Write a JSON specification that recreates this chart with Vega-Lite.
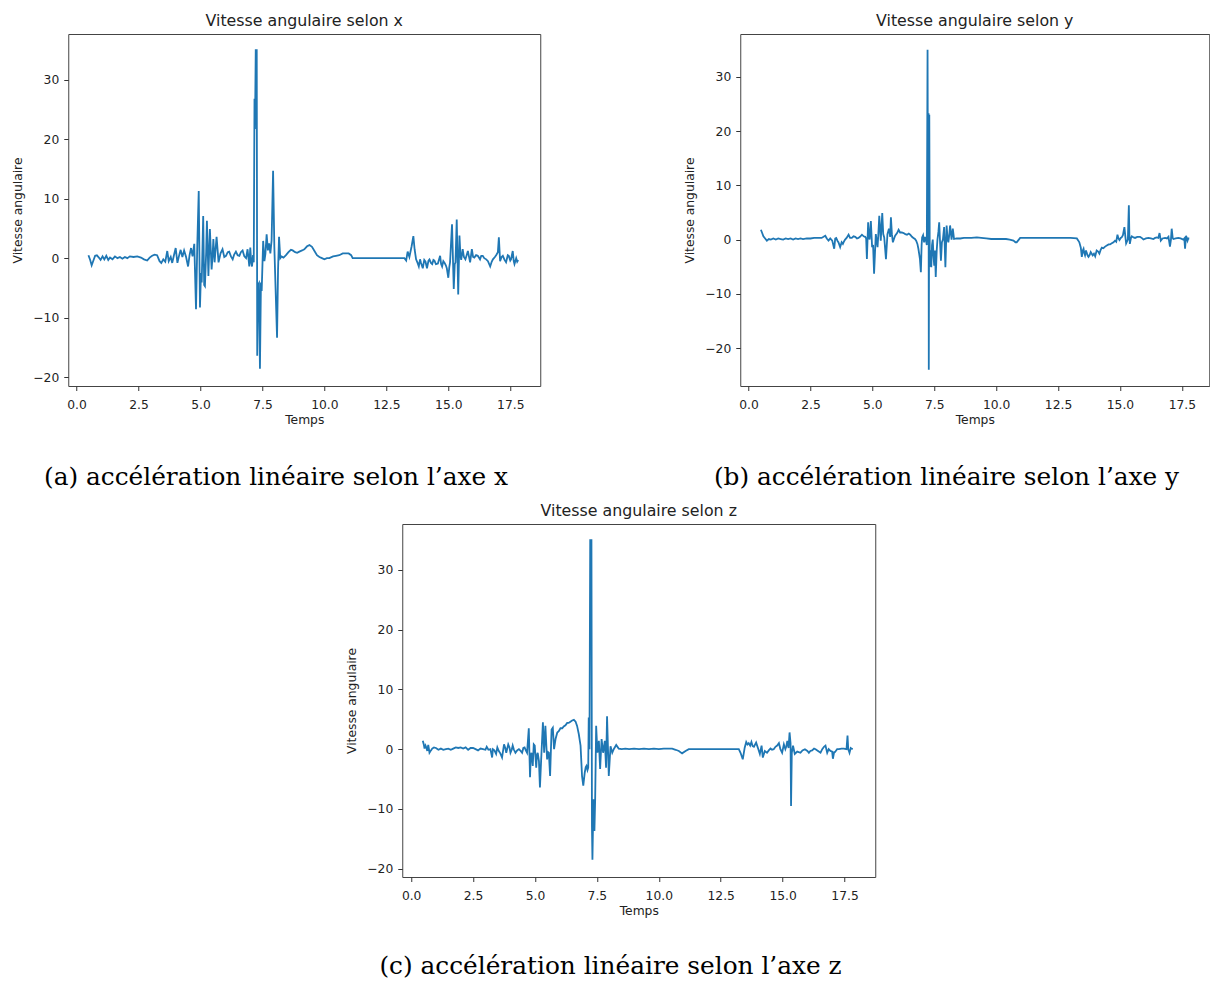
{
"$schema": "https://vega.github.io/schema/vega-lite/v6.json",
"background": "white",
"padding": {"left": 11, "top": 12, "right": 0, "bottom": 0},
"config": {
  "view": {"stroke": "#444", "strokeWidth": 1},
  "axis": {"grid": false, "domain": false, "tickColor": "#333", "tickSize": 4.5, "labelFont": "DejaVu Sans", "labelFontSize": 12.3, "labelColor": "#222", "titleFont": "DejaVu Sans", "titleFontSize": 12.3, "titleFontWeight": "normal", "titleColor": "#222"},
  "axisY": {"labelPadding": 5, "titlePadding": 8},
  "axisX": {"labelPadding": 8, "titlePadding": 3},
  "title": {"font": "DejaVu Sans", "fontSize": 15.8, "fontWeight": "normal", "color": "#222"},
  "line": {"color": "#1f77b4", "strokeWidth": 1.8, "clip": true}
},
"datasets": {
"x": [
{"t":0.48,"v":0.5},{"t":0.55,"v":-0.3},{"t":0.61,"v":-1.2},{"t":0.68,"v":-0.4},{"t":0.75,"v":0.4},{"t":0.82,"v":0.5},{"t":0.9,"v":0.1},{"t":0.97,"v":-0.3},{"t":1.05,"v":0.3},{"t":1.12,"v":-0.2},{"t":1.2,"v":0.4},{"t":1.28,"v":-0.3},{"t":1.35,"v":0.1},{"t":1.45,"v":-0.2},{"t":1.55,"v":0.3},{"t":1.65,"v":0.0},{"t":1.75,"v":0.2},{"t":1.85,"v":-0.1},{"t":1.95,"v":0.2},{"t":2.05,"v":0.0},{"t":2.15,"v":0.3},{"t":2.3,"v":0.2},{"t":2.45,"v":0.3},{"t":2.6,"v":0.1},{"t":2.72,"v":-0.2},{"t":2.85,"v":-0.4},{"t":2.95,"v":0.1},{"t":3.05,"v":0.4},{"t":3.15,"v":0.6},{"t":3.25,"v":0.5},{"t":3.35,"v":-0.5},{"t":3.42,"v":-0.8},{"t":3.5,"v":-0.2},{"t":3.58,"v":-0.6},{"t":3.66,"v":1.2},{"t":3.72,"v":-0.5},{"t":3.8,"v":0.2},{"t":3.86,"v":-0.8},{"t":3.93,"v":0.5},{"t":4.0,"v":1.7},{"t":4.07,"v":-0.8},{"t":4.13,"v":0.3},{"t":4.2,"v":1.4},{"t":4.27,"v":0.2},{"t":4.34,"v":1.3},{"t":4.42,"v":0.2},{"t":4.5,"v":-1.4},{"t":4.56,"v":0.5},{"t":4.62,"v":1.7},{"t":4.68,"v":0.3},{"t":4.75,"v":2.4},{"t":4.82,"v":-8.6},{"t":4.87,"v":2.0},{"t":4.93,"v":11.3},{"t":4.98,"v":-8.3},{"t":5.02,"v":-2.5},{"t":5.05,"v":-4.1},{"t":5.11,"v":7.1},{"t":5.15,"v":-4.5},{"t":5.18,"v":-4.7},{"t":5.23,"v":1.0},{"t":5.26,"v":6.3},{"t":5.32,"v":-3.0},{"t":5.38,"v":4.9},{"t":5.45,"v":-1.9},{"t":5.49,"v":0.5},{"t":5.52,"v":3.2},{"t":5.57,"v":-0.7},{"t":5.61,"v":1.5},{"t":5.65,"v":3.6},{"t":5.73,"v":-0.7},{"t":5.81,"v":0.8},{"t":5.89,"v":1.5},{"t":5.96,"v":0.2},{"t":6.03,"v":0.4},{"t":6.1,"v":1.0},{"t":6.16,"v":1.1},{"t":6.23,"v":0.3},{"t":6.3,"v":-0.2},{"t":6.36,"v":0.6},{"t":6.43,"v":1.1},{"t":6.5,"v":0.5},{"t":6.57,"v":0.4},{"t":6.63,"v":1.0},{"t":6.7,"v":1.3},{"t":6.77,"v":0.3},{"t":6.84,"v":0.0},{"t":6.9,"v":1.5},{"t":6.97,"v":-1.4},{"t":7.01,"v":1.8},{"t":7.05,"v":-0.8},{"t":7.08,"v":-1.4},{"t":7.12,"v":0.5},{"t":7.15,"v":-0.7},{"t":7.18,"v":26.8},{"t":7.2,"v":21.7},{"t":7.23,"v":35.0},{"t":7.27,"v":35.0},{"t":7.29,"v":-16.4},{"t":7.32,"v":-4.5},{"t":7.36,"v":-4.2},{"t":7.4,"v":-18.6},{"t":7.44,"v":-4.1},{"t":7.47,"v":-5.5},{"t":7.53,"v":2.9},{"t":7.58,"v":-0.5},{"t":7.62,"v":0.7},{"t":7.67,"v":4.0},{"t":7.72,"v":1.3},{"t":7.77,"v":2.5},{"t":7.82,"v":0.8},{"t":7.87,"v":3.0},{"t":7.93,"v":14.7},{"t":7.98,"v":2.0},{"t":8.03,"v":-5.0},{"t":8.09,"v":-13.4},{"t":8.13,"v":-2.0},{"t":8.17,"v":3.6},{"t":8.22,"v":0.0},{"t":8.27,"v":0.3},{"t":8.35,"v":0.1},{"t":8.45,"v":0.5},{"t":8.55,"v":1.0},{"t":8.65,"v":1.4},{"t":8.72,"v":1.3},{"t":8.82,"v":1.0},{"t":8.9,"v":0.9},{"t":8.99,"v":1.1},{"t":9.1,"v":1.3},{"t":9.19,"v":1.5},{"t":9.3,"v":2.0},{"t":9.4,"v":2.2},{"t":9.5,"v":1.9},{"t":9.6,"v":1.2},{"t":9.7,"v":0.5},{"t":9.8,"v":0.2},{"t":9.9,"v":0.0},{"t":10.0,"v":-0.2},{"t":10.1,"v":0.0},{"t":10.2,"v":0.0},{"t":10.35,"v":0.3},{"t":10.47,"v":0.4},{"t":10.6,"v":0.5},{"t":10.74,"v":0.8},{"t":10.9,"v":0.8},{"t":10.98,"v":0.8},{"t":11.08,"v":0.5},{"t":11.14,"v":0.0},{"t":13.23,"v":0.0},{"t":13.3,"v":-0.4},{"t":13.36,"v":1.1},{"t":13.43,"v":0.2},{"t":13.52,"v":2.0},{"t":13.59,"v":3.7},{"t":13.64,"v":1.5},{"t":13.7,"v":-0.2},{"t":13.76,"v":-0.8},{"t":13.81,"v":-1.4},{"t":13.86,"v":-0.2},{"t":13.9,"v":-0.8},{"t":13.97,"v":-1.7},{"t":14.03,"v":-0.3},{"t":14.08,"v":-0.6},{"t":14.14,"v":-1.7},{"t":14.2,"v":-0.4},{"t":14.24,"v":-0.2},{"t":14.3,"v":-0.8},{"t":14.35,"v":-1.0},{"t":14.4,"v":-0.3},{"t":14.44,"v":-0.4},{"t":14.5,"v":-1.0},{"t":14.58,"v":-0.9},{"t":14.62,"v":-0.3},{"t":14.67,"v":0.4},{"t":14.71,"v":-1.0},{"t":14.75,"v":-1.4},{"t":14.8,"v":-0.5},{"t":14.85,"v":-0.8},{"t":14.9,"v":-1.2},{"t":14.94,"v":-1.7},{"t":15.0,"v":-3.3},{"t":15.04,"v":-1.5},{"t":15.07,"v":-0.7},{"t":15.15,"v":5.7},{"t":15.22,"v":-5.2},{"t":15.26,"v":-1.0},{"t":15.29,"v":-0.7},{"t":15.34,"v":6.5},{"t":15.4,"v":-6.1},{"t":15.45,"v":3.8},{"t":15.49,"v":0.5},{"t":15.52,"v":-0.3},{"t":15.58,"v":1.5},{"t":15.63,"v":0.2},{"t":15.69,"v":-0.2},{"t":15.74,"v":0.5},{"t":15.79,"v":1.2},{"t":15.88,"v":-0.7},{"t":15.95,"v":1.5},{"t":16.0,"v":0.2},{"t":16.05,"v":0.1},{"t":16.12,"v":0.5},{"t":16.19,"v":0.4},{"t":16.28,"v":-0.2},{"t":16.33,"v":0.4},{"t":16.39,"v":0.4},{"t":16.45,"v":0.0},{"t":16.53,"v":-0.2},{"t":16.6,"v":-0.5},{"t":16.69,"v":-1.4},{"t":16.75,"v":-0.6},{"t":16.8,"v":-0.2},{"t":16.88,"v":0.2},{"t":16.93,"v":0.5},{"t":17.0,"v":1.0},{"t":17.04,"v":3.5},{"t":17.09,"v":-0.5},{"t":17.15,"v":0.2},{"t":17.2,"v":0.4},{"t":17.27,"v":-0.3},{"t":17.33,"v":-0.7},{"t":17.4,"v":0.5},{"t":17.44,"v":0.4},{"t":17.5,"v":-0.4},{"t":17.53,"v":-0.2},{"t":17.6,"v":1.2},{"t":17.64,"v":-0.5},{"t":17.67,"v":-1.0},{"t":17.74,"v":0.0},{"t":17.78,"v":-0.6},{"t":17.82,"v":-0.3}
],
"y": [
{"t":0.5,"v":1.8},{"t":0.55,"v":1.2},{"t":0.6,"v":0.6},{"t":0.67,"v":0.2},{"t":0.74,"v":-0.2},{"t":0.82,"v":0.1},{"t":0.9,"v":0.0},{"t":1.0,"v":0.2},{"t":1.1,"v":0.0},{"t":1.2,"v":0.2},{"t":1.3,"v":0.1},{"t":1.4,"v":0.0},{"t":1.5,"v":0.2},{"t":1.6,"v":0.1},{"t":1.7,"v":0.2},{"t":1.8,"v":0.0},{"t":1.9,"v":0.2},{"t":2.0,"v":0.1},{"t":2.1,"v":0.2},{"t":2.2,"v":0.1},{"t":2.35,"v":0.2},{"t":2.5,"v":0.2},{"t":2.65,"v":0.3},{"t":2.8,"v":0.3},{"t":2.95,"v":0.3},{"t":3.03,"v":0.5},{"t":3.1,"v":0.7},{"t":3.16,"v":0.2},{"t":3.23,"v":-0.2},{"t":3.3,"v":0.2},{"t":3.38,"v":-0.2},{"t":3.46,"v":-1.7},{"t":3.5,"v":0.2},{"t":3.54,"v":0.3},{"t":3.6,"v":-0.3},{"t":3.63,"v":-0.5},{"t":3.7,"v":-1.4},{"t":3.76,"v":-0.5},{"t":3.81,"v":-0.8},{"t":3.86,"v":-0.3},{"t":3.9,"v":0.0},{"t":3.96,"v":0.3},{"t":4.04,"v":0.9},{"t":4.1,"v":0.3},{"t":4.17,"v":0.3},{"t":4.24,"v":0.6},{"t":4.31,"v":0.5},{"t":4.38,"v":0.2},{"t":4.44,"v":0.3},{"t":4.5,"v":0.5},{"t":4.58,"v":0.9},{"t":4.65,"v":0.6},{"t":4.71,"v":0.5},{"t":4.75,"v":0.2},{"t":4.78,"v":-3.6},{"t":4.83,"v":3.2},{"t":4.86,"v":0.5},{"t":4.89,"v":0.0},{"t":4.94,"v":3.4},{"t":4.99,"v":-1.4},{"t":5.03,"v":-1.0},{"t":5.07,"v":-6.3},{"t":5.14,"v":1.0},{"t":5.21,"v":-1.4},{"t":5.24,"v":0.8},{"t":5.28,"v":4.4},{"t":5.34,"v":-0.2},{"t":5.4,"v":4.9},{"t":5.44,"v":1.0},{"t":5.48,"v":0.4},{"t":5.55,"v":-3.6},{"t":5.61,"v":1.0},{"t":5.67,"v":2.0},{"t":5.72,"v":0.5},{"t":5.75,"v":4.1},{"t":5.79,"v":1.0},{"t":5.83,"v":-0.5},{"t":5.88,"v":0.2},{"t":5.92,"v":0.7},{"t":6.0,"v":1.2},{"t":6.06,"v":1.8},{"t":6.12,"v":1.3},{"t":6.19,"v":1.3},{"t":6.26,"v":1.2},{"t":6.33,"v":1.0},{"t":6.4,"v":0.9},{"t":6.47,"v":1.1},{"t":6.53,"v":0.9},{"t":6.6,"v":0.5},{"t":6.66,"v":0.3},{"t":6.72,"v":0.1},{"t":6.77,"v":-0.2},{"t":6.82,"v":-0.8},{"t":6.86,"v":-1.7},{"t":6.92,"v":-3.5},{"t":6.96,"v":-6.0},{"t":6.99,"v":-1.0},{"t":7.01,"v":0.4},{"t":7.05,"v":0.8},{"t":7.09,"v":-0.5},{"t":7.13,"v":0.5},{"t":7.17,"v":-0.2},{"t":7.2,"v":-1.0},{"t":7.23,"v":35.0},{"t":7.25,"v":-0.5},{"t":7.27,"v":23.3},{"t":7.28,"v":-24.0},{"t":7.3,"v":23.0},{"t":7.32,"v":-5.0},{"t":7.35,"v":-2.0},{"t":7.38,"v":-5.1},{"t":7.41,"v":-1.0},{"t":7.44,"v":0.0},{"t":7.47,"v":-3.0},{"t":7.5,"v":-4.8},{"t":7.53,"v":-2.0},{"t":7.56,"v":-6.9},{"t":7.6,"v":-2.0},{"t":7.63,"v":0.0},{"t":7.67,"v":1.5},{"t":7.7,"v":3.2},{"t":7.74,"v":-1.0},{"t":7.77,"v":-3.9},{"t":7.81,"v":-0.5},{"t":7.85,"v":0.0},{"t":7.9,"v":2.3},{"t":7.95,"v":-5.1},{"t":8.0,"v":2.6},{"t":8.04,"v":0.0},{"t":8.07,"v":-0.5},{"t":8.11,"v":1.0},{"t":8.14,"v":2.6},{"t":8.2,"v":0.0},{"t":8.25,"v":2.0},{"t":8.3,"v":0.1},{"t":8.4,"v":0.2},{"t":8.55,"v":0.2},{"t":8.7,"v":0.3},{"t":8.85,"v":0.3},{"t":9.0,"v":0.3},{"t":9.22,"v":0.4},{"t":9.4,"v":0.3},{"t":9.6,"v":0.2},{"t":9.8,"v":0.1},{"t":10.03,"v":0.1},{"t":10.2,"v":0.1},{"t":10.4,"v":0.1},{"t":10.55,"v":0.0},{"t":10.7,"v":-0.2},{"t":10.78,"v":-0.5},{"t":10.83,"v":-0.5},{"t":10.9,"v":-0.1},{"t":10.97,"v":0.3},{"t":11.2,"v":0.3},{"t":11.5,"v":0.3},{"t":12.0,"v":0.3},{"t":12.5,"v":0.3},{"t":13.0,"v":0.3},{"t":13.26,"v":0.2},{"t":13.32,"v":-0.2},{"t":13.36,"v":-0.5},{"t":13.42,"v":-1.5},{"t":13.46,"v":-3.2},{"t":13.5,"v":-2.0},{"t":13.53,"v":-1.7},{"t":13.56,"v":-2.5},{"t":13.59,"v":-2.9},{"t":13.63,"v":-2.0},{"t":13.66,"v":-2.5},{"t":13.7,"v":-3.0},{"t":13.73,"v":-3.2},{"t":13.78,"v":-2.8},{"t":13.82,"v":-2.3},{"t":13.86,"v":-2.6},{"t":13.9,"v":-2.9},{"t":13.95,"v":-2.6},{"t":14.0,"v":-3.1},{"t":14.06,"v":-2.0},{"t":14.12,"v":-2.2},{"t":14.17,"v":-2.6},{"t":14.22,"v":-1.9},{"t":14.27,"v":-1.5},{"t":14.33,"v":-1.6},{"t":14.4,"v":-1.3},{"t":14.47,"v":-1.1},{"t":14.54,"v":-0.9},{"t":14.6,"v":-0.9},{"t":14.67,"v":-0.7},{"t":14.74,"v":-0.5},{"t":14.8,"v":-0.2},{"t":14.85,"v":-0.4},{"t":14.9,"v":0.9},{"t":14.94,"v":0.2},{"t":14.98,"v":-0.1},{"t":15.03,"v":0.3},{"t":15.07,"v":0.4},{"t":15.12,"v":0.8},{"t":15.18,"v":2.3},{"t":15.22,"v":0.5},{"t":15.25,"v":-0.7},{"t":15.3,"v":-0.2},{"t":15.32,"v":0.0},{"t":15.36,"v":6.3},{"t":15.38,"v":1.0},{"t":15.4,"v":-0.8},{"t":15.44,"v":0.2},{"t":15.48,"v":0.6},{"t":15.55,"v":0.4},{"t":15.61,"v":0.3},{"t":15.7,"v":0.5},{"t":15.81,"v":0.5},{"t":15.88,"v":0.3},{"t":15.95,"v":0.0},{"t":16.05,"v":0.2},{"t":16.15,"v":0.3},{"t":16.25,"v":0.2},{"t":16.35,"v":0.1},{"t":16.42,"v":0.3},{"t":16.49,"v":0.4},{"t":16.55,"v":0.3},{"t":16.6,"v":1.2},{"t":16.65,"v":-0.2},{"t":16.72,"v":0.2},{"t":16.82,"v":0.3},{"t":16.9,"v":0.2},{"t":16.96,"v":0.5},{"t":17.02,"v":-1.3},{"t":17.06,"v":0.0},{"t":17.09,"v":2.0},{"t":17.13,"v":0.3},{"t":17.16,"v":0.1},{"t":17.25,"v":0.2},{"t":17.36,"v":0.3},{"t":17.45,"v":0.2},{"t":17.56,"v":0.0},{"t":17.6,"v":0.2},{"t":17.63,"v":-1.7},{"t":17.67,"v":0.7},{"t":17.7,"v":0.3},{"t":17.73,"v":-0.2},{"t":17.76,"v":0.2},{"t":17.8,"v":0.2}
],
"z": [
{"t":0.47,"v":1.4},{"t":0.51,"v":0.8},{"t":0.54,"v":0.1},{"t":0.58,"v":0.6},{"t":0.62,"v":0.2},{"t":0.65,"v":-0.3},{"t":0.69,"v":0.7},{"t":0.74,"v":-0.6},{"t":0.8,"v":-0.2},{"t":0.85,"v":0.1},{"t":0.92,"v":0.3},{"t":1.0,"v":0.2},{"t":1.1,"v":-0.1},{"t":1.2,"v":0.1},{"t":1.3,"v":-0.1},{"t":1.4,"v":0.0},{"t":1.5,"v":0.1},{"t":1.6,"v":-0.1},{"t":1.7,"v":0.1},{"t":1.8,"v":0.3},{"t":1.9,"v":0.2},{"t":2.0,"v":0.3},{"t":2.1,"v":0.1},{"t":2.2,"v":0.3},{"t":2.3,"v":-0.1},{"t":2.4,"v":0.2},{"t":2.5,"v":0.2},{"t":2.6,"v":0.0},{"t":2.7,"v":-0.2},{"t":2.8,"v":0.1},{"t":2.9,"v":0.0},{"t":3.0,"v":-0.1},{"t":3.05,"v":0.4},{"t":3.12,"v":-0.1},{"t":3.2,"v":0.0},{"t":3.27,"v":-1.4},{"t":3.3,"v":0.0},{"t":3.36,"v":-0.2},{"t":3.43,"v":-0.8},{"t":3.48,"v":0.3},{"t":3.54,"v":-0.3},{"t":3.6,"v":-0.7},{"t":3.67,"v":-1.4},{"t":3.75,"v":0.8},{"t":3.8,"v":0.2},{"t":3.84,"v":-0.6},{"t":3.92,"v":0.8},{"t":3.97,"v":0.3},{"t":4.01,"v":-0.6},{"t":4.06,"v":-0.1},{"t":4.1,"v":0.6},{"t":4.15,"v":-0.1},{"t":4.21,"v":-0.6},{"t":4.28,"v":-0.2},{"t":4.35,"v":0.0},{"t":4.42,"v":-0.3},{"t":4.48,"v":-0.6},{"t":4.53,"v":0.2},{"t":4.58,"v":0.3},{"t":4.63,"v":-0.2},{"t":4.68,"v":-0.6},{"t":4.75,"v":3.5},{"t":4.8,"v":-4.7},{"t":4.83,"v":-1.0},{"t":4.86,"v":-0.6},{"t":4.91,"v":-2.8},{"t":4.95,"v":0.8},{"t":4.99,"v":0.6},{"t":5.05,"v":-3.1},{"t":5.08,"v":-1.0},{"t":5.11,"v":-0.6},{"t":5.16,"v":-2.0},{"t":5.2,"v":-6.4},{"t":5.25,"v":-1.7},{"t":5.32,"v":4.5},{"t":5.37,"v":-0.6},{"t":5.42,"v":3.9},{"t":5.46,"v":0.5},{"t":5.49,"v":-1.7},{"t":5.53,"v":-0.5},{"t":5.56,"v":-0.6},{"t":5.61,"v":-4.5},{"t":5.67,"v":3.3},{"t":5.72,"v":3.6},{"t":5.77,"v":0.0},{"t":5.83,"v":1.7},{"t":5.9,"v":2.8},{"t":5.96,"v":3.0},{"t":6.03,"v":3.5},{"t":6.1,"v":3.5},{"t":6.16,"v":3.8},{"t":6.23,"v":4.0},{"t":6.3,"v":4.4},{"t":6.36,"v":4.4},{"t":6.43,"v":4.6},{"t":6.5,"v":4.8},{"t":6.57,"v":4.9},{"t":6.64,"v":4.6},{"t":6.7,"v":3.9},{"t":6.77,"v":2.5},{"t":6.84,"v":0.6},{"t":6.9,"v":-4.5},{"t":6.95,"v":-6.1},{"t":7.01,"v":-3.9},{"t":7.05,"v":-3.0},{"t":7.08,"v":-2.8},{"t":7.12,"v":-3.5},{"t":7.15,"v":-3.1},{"t":7.17,"v":5.3},{"t":7.2,"v":0.0},{"t":7.23,"v":35.0},{"t":7.28,"v":35.0},{"t":7.3,"v":-12.8},{"t":7.32,"v":-18.5},{"t":7.36,"v":-8.4},{"t":7.4,"v":-13.7},{"t":7.43,"v":-8.4},{"t":7.47,"v":3.9},{"t":7.52,"v":-0.6},{"t":7.58,"v":1.4},{"t":7.63,"v":-3.3},{"t":7.69,"v":1.7},{"t":7.75,"v":-0.6},{"t":7.82,"v":1.4},{"t":7.87,"v":-3.1},{"t":7.91,"v":5.5},{"t":7.98,"v":-4.5},{"t":8.05,"v":0.5},{"t":8.12,"v":-0.6},{"t":8.18,"v":0.0},{"t":8.28,"v":0.7},{"t":8.38,"v":0.1},{"t":8.5,"v":0.0},{"t":8.65,"v":0.1},{"t":8.8,"v":0.0},{"t":9.0,"v":0.1},{"t":9.2,"v":0.0},{"t":9.4,"v":0.1},{"t":9.6,"v":0.0},{"t":9.8,"v":0.1},{"t":10.0,"v":0.0},{"t":10.2,"v":0.1},{"t":10.4,"v":0.1},{"t":10.54,"v":0.1},{"t":10.68,"v":-0.1},{"t":10.81,"v":-0.3},{"t":10.94,"v":-0.7},{"t":11.08,"v":-0.3},{"t":11.21,"v":0.0},{"t":13.23,"v":0.0},{"t":13.3,"v":-0.6},{"t":13.39,"v":-1.7},{"t":13.47,"v":0.3},{"t":13.53,"v":1.2},{"t":13.58,"v":0.8},{"t":13.63,"v":1.0},{"t":13.69,"v":0.6},{"t":13.74,"v":1.2},{"t":13.79,"v":0.5},{"t":13.84,"v":0.4},{"t":13.93,"v":1.1},{"t":14.01,"v":0.1},{"t":14.08,"v":-0.8},{"t":14.15,"v":0.6},{"t":14.2,"v":-1.4},{"t":14.28,"v":-0.3},{"t":14.37,"v":-0.6},{"t":14.44,"v":-0.2},{"t":14.51,"v":0.1},{"t":14.57,"v":-0.1},{"t":14.64,"v":0.0},{"t":14.71,"v":0.4},{"t":14.78,"v":0.6},{"t":14.85,"v":1.0},{"t":14.91,"v":0.0},{"t":14.98,"v":-0.6},{"t":15.05,"v":0.8},{"t":15.11,"v":0.0},{"t":15.15,"v":0.5},{"t":15.19,"v":1.4},{"t":15.24,"v":0.2},{"t":15.28,"v":2.8},{"t":15.32,"v":1.0},{"t":15.34,"v":-9.5},{"t":15.37,"v":-0.6},{"t":15.42,"v":0.6},{"t":15.49,"v":-0.8},{"t":15.59,"v":-0.4},{"t":15.72,"v":-0.6},{"t":15.8,"v":-0.2},{"t":15.9,"v":0.0},{"t":16.0,"v":-0.3},{"t":16.06,"v":-0.6},{"t":16.12,"v":-0.3},{"t":16.19,"v":-0.2},{"t":16.27,"v":0.1},{"t":16.33,"v":0.0},{"t":16.43,"v":-0.3},{"t":16.53,"v":-0.6},{"t":16.6,"v":0.0},{"t":16.67,"v":0.4},{"t":16.73,"v":0.6},{"t":16.8,"v":-0.6},{"t":16.86,"v":0.0},{"t":16.93,"v":-0.3},{"t":17.0,"v":-0.4},{"t":17.03,"v":-1.6},{"t":17.08,"v":-0.5},{"t":17.11,"v":-0.5},{"t":17.2,"v":0.0},{"t":17.27,"v":0.0},{"t":17.38,"v":0.1},{"t":17.47,"v":0.1},{"t":17.58,"v":0.0},{"t":17.62,"v":2.3},{"t":17.65,"v":0.0},{"t":17.7,"v":-0.6},{"t":17.75,"v":0.2},{"t":17.78,"v":0.1},{"t":17.83,"v":0.0}
]
},
"center": true,
"spacing": 12,
"vconcat": [
{
"spacing": 142,
"hconcat": [
{
"title": {"text": "(a) accélération linéaire selon l’axe x", "orient": "bottom", "anchor": "middle", "font": "DejaVu Serif", "fontSize": 24.8, "color": "black", "offset": 38},
"vconcat": [{
"data": {"name": "x"},
"width": 472, "height": 352,
"title": {"text": "Vitesse angulaire selon x", "frame": "group", "offset": 4},
"mark": {"type": "line"},
"encoding": {
"x": {"field": "t", "type": "quantitative", "scale": {"domain": [-0.335, 18.71], "nice": false, "zero": false}, "axis": {"values": [0, 2.5, 5, 7.5, 10, 12.5, 15, 17.5], "format": ".1f", "title": "Temps"}},
"y": {"field": "v", "type": "quantitative", "scale": {"domain": [-21.5, 37.7], "nice": false, "zero": false}, "axis": {"values": [-20, -10, 0, 10, 20, 30], "title": "Vitesse angulaire"}}
}
}]
},
{
"title": {"text": "(b) accélération linéaire selon l’axe y", "orient": "bottom", "anchor": "middle", "font": "DejaVu Serif", "fontSize": 24.8, "color": "black", "offset": 38},
"vconcat": [{
"data": {"name": "y"},
"width": 469, "height": 352,
"title": {"text": "Vitesse angulaire selon y", "frame": "group", "offset": 4},
"mark": {"type": "line"},
"encoding": {
"x": {"field": "t", "type": "quantitative", "scale": {"domain": [-0.335, 18.607], "nice": false, "zero": false}, "axis": {"values": [0, 2.5, 5, 7.5, 10, 12.5, 15, 17.5], "format": ".1f", "title": "Temps"}},
"y": {"field": "v", "type": "quantitative", "scale": {"domain": [-27.0, 37.9], "nice": false, "zero": false}, "axis": {"values": [-20, -10, 0, 10, 20, 30], "title": "Vitesse angulaire"}}
}
}]
}
]
},
{
"title": {"text": "(c) accélération linéaire selon l’axe z", "orient": "bottom", "anchor": "middle", "font": "DejaVu Serif", "fontSize": 24.8, "color": "black", "offset": 36},
"vconcat": [{
"data": {"name": "z"},
"width": 473, "height": 353,
"title": {"text": "Vitesse angulaire selon z", "frame": "group", "offset": 4},
"mark": {"type": "line"},
"encoding": {
"x": {"field": "t", "type": "quantitative", "scale": {"domain": [-0.36, 18.74], "nice": false, "zero": false}, "axis": {"values": [0, 2.5, 5, 7.5, 10, 12.5, 15, 17.5], "format": ".1f", "title": "Temps"}},
"y": {"field": "v", "type": "quantitative", "scale": {"domain": [-21.4, 37.7], "nice": false, "zero": false}, "axis": {"values": [-20, -10, 0, 10, 20, 30], "title": "Vitesse angulaire"}}
}
}]
}
]
}
